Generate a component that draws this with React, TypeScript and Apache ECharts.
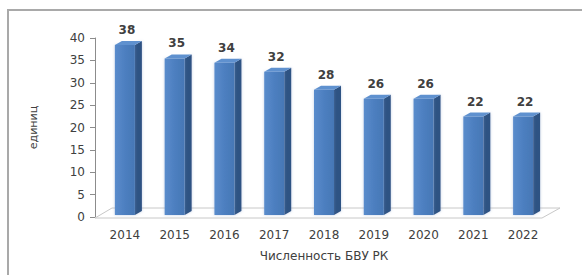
import React, { useEffect, useRef } from "react";
import * as echarts from "echarts";

const categories = ["2014", "2015", "2016", "2017", "2018", "2019", "2020", "2021", "2022"];
const values = [38, 35, 34, 32, 28, 26, 26, 22, 22];
const yTicks = { min: 0, max: 40, interval: 5 };
const xTitle = "Численность БВУ РК";
const yTitle = "единиц";

const FONT = "DejaVu Sans";

export default function App() {
  const ref = useRef<HTMLDivElement>(null);
  useEffect(() => {
    if (!ref.current) return;
    const chart = echarts.init(ref.current, undefined, { renderer: "svg" });
    const option: any = {
      animation: false,
      backgroundColor: "#ffffff",
      graphic: [
        {
          type: "rect",
          shape: { x: 8, y: 10, width: 620, height: 320 },
          style: { fill: "none", stroke: "#a9a9a9", lineWidth: 2 },
          silent: true,
          z: -10,
        },
      ],
      grid: { left: 100, right: 34, top: 38, bottom: 58, containLabel: false },
      xAxis: {
        type: "category",
        data: categories,
        axisLine: { show: false },
        axisTick: { show: false },
        axisLabel: { fontFamily: FONT, fontSize: 12, color: "#404040", margin: 12 },
        name: xTitle,
        nameLocation: "middle",
        nameGap: 33,
        nameTextStyle: { fontFamily: FONT, fontSize: 12, color: "#404040" },
      },
      yAxis: {
        type: "value",
        min: yTicks.min,
        max: yTicks.max,
        interval: yTicks.interval,
        offset: 5,
        axisLine: { show: true, lineStyle: { color: "#8c8c8c", width: 1 } },
        axisTick: { show: true, length: 5, lineStyle: { color: "#8c8c8c" } },
        splitLine: { show: false },
        axisLabel: { fontFamily: FONT, fontSize: 12, color: "#404040", margin: 10 },
        name: yTitle,
        nameLocation: "middle",
        nameRotate: 90,
        nameGap: 56,
        nameTextStyle: { fontFamily: FONT, fontSize: 11, color: "#404040" },
      },
      series: [
        {
          type: "custom",
          z: 1,
          silent: true,
          data: [[0, 0]],
          renderItem: (params: any) => {
            const cs = params.coordSys;
            const yb = cs.y + cs.height;
            return {
              type: "polygon",
              shape: {
                points: [
                  [cs.x - 5, yb + 1],
                  [cs.x + cs.width - 6, yb + 1],
                  [cs.x + cs.width + 12, yb - 9],
                  [cs.x + 12, yb - 9],
                ],
              },
              style: { fill: "#ffffff", stroke: "#c8c8c8", lineWidth: 1 },
            };
          },
        },
        {
          type: "custom",
          z: 2,
          data: values.map((v, i) => [i, v]),
          encode: { x: 0, y: 1 },
          renderItem: (params: any, api: any) => {
            const i = api.value(0);
            const v = api.value(1);
            const top = api.coord([i, v]);
            const base = api.coord([i, 0]);
            const w = 20;
            const d = 7;
            const h = 4;
            const x0 = top[0] - w / 2;
            const x1 = top[0] + w / 2;
            const yt = top[1] - 2;
            const yb = base[1] - 2;
            return {
              type: "group",
              children: [
                {
                  type: "polygon",
                  shape: {
                    points: [
                      [x1, yt],
                      [x1 + d, yt - h],
                      [x1 + d, yb - h],
                      [x1, yb],
                    ],
                  },
                  style: { fill: "#2f5283", shadowBlur: 3, shadowColor: "rgba(120,150,200,0.45)" },
                },
                {
                  type: "rect",
                  shape: { x: x0, y: yt, width: w, height: yb - yt },
                  style: {
                    fill: new echarts.graphic.LinearGradient(0, 0, 1, 0, [
                      { offset: 0, color: "#5a8ccc" },
                      { offset: 0.5, color: "#4d7fc0" },
                      { offset: 1, color: "#4677b5" },
                    ]),
                    shadowBlur: 3,
                    shadowColor: "rgba(120,150,200,0.45)",
                  },
                },
                {
                  type: "polygon",
                  shape: {
                    points: [
                      [x0, yt],
                      [x0 + d, yt - h],
                      [x1 + d, yt - h],
                      [x1, yt],
                    ],
                  },
                  style: { fill: "#5f91cf" },
                },
                {
                  type: "text",
                  style: {
                    text: String(v),
                    x: top[0] + 2,
                    y: yt - h - 5,
                    align: "center",
                    verticalAlign: "bottom",
                    fontFamily: FONT,
                    fontSize: 12,
                    fontWeight: "bold",
                    fill: "#404040",
                  },
                },
              ],
            };
          },
        },
      ],
    };
    chart.setOption(option);
    return () => chart.dispose();
  }, []);
  return (
    <div
      ref={ref}
      style={{ position: "fixed", left: 0, top: 0, width: 582, height: 275 }}
    />
  );
}
